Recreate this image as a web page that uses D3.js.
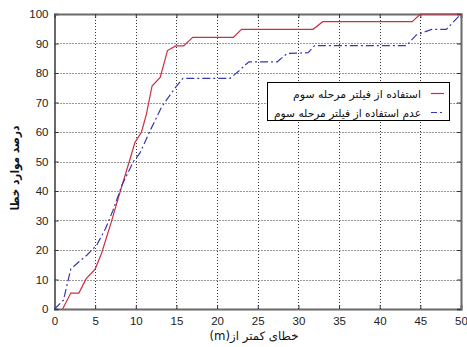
<!DOCTYPE html>
<html><head><meta charset="utf-8">
<script src="https://cdn.jsdelivr.net/npm/d3@7/dist/d3.min.js"></script>
<style>body{margin:0;background:#fff}svg{display:block}</style>
</head><body>
<script>
const xTicks = [0,5,10,15,20,25,30,35,40,45,50];
const yTicks = [0,10,20,30,40,50,60,70,80,90,100];
const withX = [1, 2, 3, 3.9, 5, 5.8, 7, 8.1, 9.2, 9.9, 10.7, 11.3, 12, 13, 13.9, 14.9, 15.9, 17, 22, 23, 31.8, 33, 44, 45, 50];
const withY = [0, 5.4, 5.4, 10.3, 13.5, 19, 29.6, 40, 50, 56.5, 60, 66, 75.6, 78.5, 87.6, 89.2, 89.2, 92.1, 92.1, 94.8, 94.8, 97.4, 97.4, 100, 100];
const withoutX = [0, 1.1, 2, 3, 4, 5.2, 6.3, 7.2, 8.3, 9.7, 10.5, 11.75, 13.2, 14.8, 15.8, 21.6, 22.8, 23.9, 27.4, 28.6, 31.2, 32, 43.3, 44.5, 46.4, 48.2, 50];
const withoutY = [0, 3, 13.5, 16, 18.3, 21.7, 27.4, 33.5, 42, 50, 52.8, 60.4, 68.6, 74.8, 78.2, 78.2, 81, 83.8, 83.8, 86.6, 86.9, 89.3, 89.3, 92.9, 94.8, 94.8, 100];
const seriesNames = ["استفاده از فیلتر مرحله سوم", "عدم استفاده از فیلتر مرحله سوم"];
const xLabel = "خطای کمتر از(m)";
const yLabel = "درصد موارد خطا";

const W = 467, H = 347;
const L = 54.5, R = 461, T = 14, B = 309;
const svg = d3.select("body").append("svg").attr("width", W).attr("height", H);
const x = d3.scaleLinear().domain([0,50]).range([L,R]);
const y = d3.scaleLinear().domain([0,100]).range([B,T]);

// grid
const g = svg.append("g");
g.selectAll(".gx").data(xTicks.slice(1,-1)).enter().append("line")
  .attr("x1", d=>Math.round(x(d))+0.5).attr("x2", d=>Math.round(x(d))+0.5)
  .attr("y1", T).attr("y2", B).attr("stroke", "#333").attr("stroke-width", 1).attr("stroke-dasharray", "1,2");
g.selectAll(".gy").data(yTicks.slice(1,-1)).enter().append("line")
  .attr("y1", d=>Math.round(y(d))+0.5).attr("y2", d=>Math.round(y(d))+0.5)
  .attr("x1", L).attr("x2", R).attr("stroke", "#333").attr("stroke-width", 1).attr("stroke-dasharray", "1,2");

const font = "Liberation Sans, Arial, sans-serif";
const ax = svg.append("g").attr("transform", `translate(0,${B})`)
  .call(d3.axisBottom(x).tickValues(xTicks).tickSize(-4).tickPadding(8));
const ay = svg.append("g").attr("transform", `translate(${L},0)`)
  .call(d3.axisLeft(y).tickValues(yTicks).tickSize(-4).tickPadding(6));
const at = svg.append("g").attr("transform", `translate(0,${T})`)
  .call(d3.axisTop(x).tickValues(xTicks).tickSize(-4).tickFormat(""));
const ar = svg.append("g").attr("transform", `translate(${R},0)`)
  .call(d3.axisRight(y).tickValues(yTicks).tickSize(-4).tickFormat(""));
[ax,ay,at,ar].forEach(a=>{
  a.selectAll("path").attr("stroke","#6a6a6a").attr("stroke-width",2);
  a.selectAll("line").attr("stroke","#333");
  a.selectAll("text").attr("font-family",font).attr("font-size",11.5).attr("fill","#222");
});

// lines
const line = d3.line().x(d=>x(d[0])).y(d=>y(d[1]));
svg.append("path").datum(withX.map((v,i)=>[v,withY[i]]))
  .attr("d", line).attr("fill","none").attr("stroke","#cc3040").attr("stroke-width",1.2);
svg.append("path").datum(withoutX.map((v,i)=>[v,withoutY[i]]))
  .attr("d", line).attr("fill","none").attr("stroke","#3838b0").attr("stroke-width",1.2)
  .attr("stroke-dasharray","8,3,2,3");

// legend
const lg = svg.append("g");
lg.append("rect").attr("x",267.5).attr("y",82.5).attr("width",182).attr("height",38)
  .attr("fill","#fff").attr("stroke","#000").attr("stroke-width",1);
const lcol = ["#cc3040","#3838b0"], ldash = [null,"6,3,2,3"], lwid = [128,147];
seriesNames.forEach((s,i)=>{
  const yy = 93.5 + i*19;
  lg.append("line").attr("x1",431).attr("x2",444).attr("y1",yy).attr("y2",yy)
    .attr("stroke",lcol[i]).attr("stroke-width",1.2).attr("stroke-dasharray",ldash[i]);
  lg.append("text").attr("x",421).attr("y",yy+4).attr("text-anchor","start")
    .attr("direction","rtl").attr("font-family","DejaVu Sans, Noto Sans, sans-serif")
    .attr("font-size",11).attr("textLength",lwid[i]).attr("lengthAdjust","spacingAndGlyphs")
    .attr("fill","#111").text(s);
});

// axis labels
svg.append("text").attr("x",254).attr("y",340).attr("text-anchor","middle")
  .attr("direction","rtl").attr("font-family","DejaVu Sans, Noto Sans, sans-serif")
  .attr("font-size",11.5).attr("textLength",89).attr("lengthAdjust","spacingAndGlyphs")
  .attr("fill","#111").text(xLabel);
svg.append("text").attr("transform","translate(19,168) rotate(-90)").attr("text-anchor","middle")
  .attr("direction","rtl").attr("font-family","DejaVu Sans, Noto Sans, sans-serif")
  .attr("font-size",12).attr("font-weight","bold").attr("textLength",85).attr("lengthAdjust","spacingAndGlyphs")
  .attr("fill","#111").text(yLabel);
</script>
</body></html>
